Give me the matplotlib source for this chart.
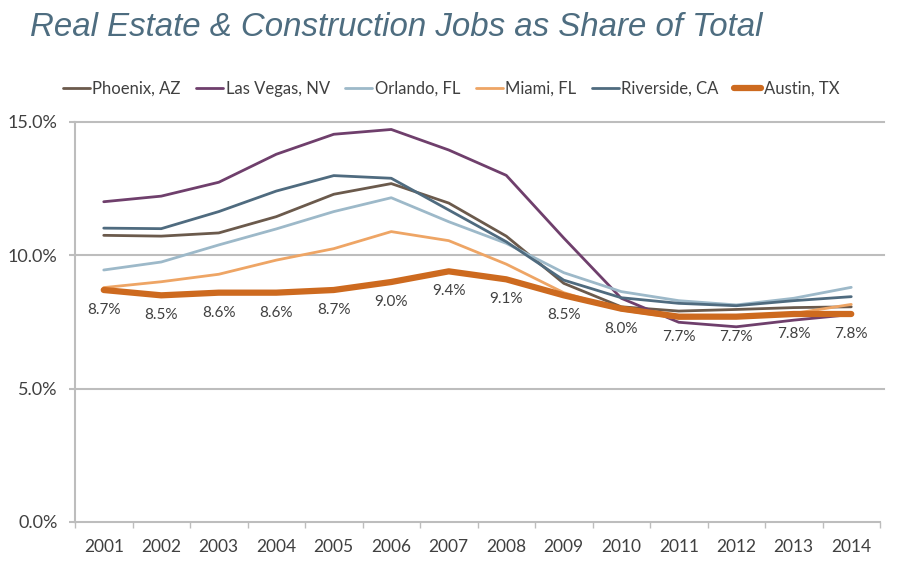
import matplotlib
matplotlib.use("Agg")
import matplotlib.pyplot as plt
from matplotlib.ticker import FuncFormatter, FixedLocator

years = ["2001", "2002", "2003", "2004", "2005", "2006", "2007",
         "2008", "2009", "2010", "2011", "2012", "2013", "2014"]
phoenix = [10.75, 10.72, 10.84, 11.45, 12.29, 12.69, 11.96, 10.72, 8.95, 8.07, 7.91, 7.97, 8.04, 8.07]
las_vegas = [12.01, 12.22, 12.74, 13.79, 14.54, 14.72, 13.95, 13.0, 10.65, 8.39, 7.49, 7.32, 7.57, 7.78]
orlando = [9.45, 9.75, 10.39, 10.99, 11.64, 12.16, 11.26, 10.45, 9.35, 8.64, 8.3, 8.14, 8.39, 8.8]
miami = [8.79, 9.01, 9.29, 9.82, 10.25, 10.89, 10.55, 9.67, 8.6, 7.95, 7.64, 7.7, 7.82, 8.16]
riverside = [11.02, 11.0, 11.64, 12.41, 12.99, 12.89, 11.7, 10.51, 9.07, 8.41, 8.2, 8.11, 8.3, 8.45]
austin = [8.7, 8.5, 8.6, 8.6, 8.7, 9.0, 9.4, 9.1, 8.5, 8.0, 7.7, 7.7, 7.8, 7.8]

series = [
    ("Phoenix, AZ", phoenix, "#6b5a4c", 2.0),
    ("Las Vegas, NV", las_vegas, "#6f3f6c", 2.0),
    ("Orlando, FL", orlando, "#9db9c9", 2.0),
    ("Miami, FL", miami, "#eea565", 2.0),
    ("Riverside, CA", riverside, "#4f6b7f", 2.0),
    ("Austin, TX", austin, "#cd6a1f", 4.5),
]

plt.rcParams['font.family'] = ['Lato', 'DejaVu Sans']
txt = "#404040"
grid = "#bdbdbd"

fig = plt.figure(figsize=(9, 5.8), dpi=100)
ax = fig.add_axes([75/900, 1-522/580, 805/900, 400/580])
x = list(range(len(years)))

for name, vals, col, lw in series:
    ax.plot(x, vals, color=col, lw=lw, label=name, solid_capstyle='round', zorder=3)

for xi, v in zip(x, austin):
    ax.annotate(f"{v:.1f}%", (xi, v), xytext=(0, -14.5), textcoords='offset points',
                ha='center', va='center', fontsize=11, color=txt, zorder=4)

ax.set_xlim(-0.5, 13.5)
ax.set_ylim(0, 15)
ax.set_yticks([0, 5, 10, 15])
ax.yaxis.set_major_formatter(FuncFormatter(lambda v, p: f"{v:.1f}%"))
for yv in [5, 10, 15]:
    ax.axhline(yv, color=grid, lw=1.5, zorder=1, xmax=1.005, clip_on=False)
ax.set_xticks(x)
ax.set_xticklabels(years)
ax.xaxis.set_minor_locator(FixedLocator([i + 0.5 for i in range(-1, 14)]))
ax.tick_params(axis='x', which='major', length=0, pad=12, labelsize=12.5, labelcolor=txt)
ax.tick_params(axis='x', which='minor', length=4, width=1, color=grid, direction='out')
ax.tick_params(axis='y', length=4.5, width=1.5, color=grid, pad=8, labelsize=13, labelcolor=txt)

for s in ['top', 'right']:
    ax.spines[s].set_visible(False)
ax.spines['left'].set_color(grid)
ax.spines['left'].set_linewidth(1.5)
ax.spines['bottom'].set_color(grid)
ax.spines['bottom'].set_linewidth(1.5)

fig.text(30/900, 1-28/580, "Real Estate & Construction Jobs as Share of Total",
         fontsize=23.8, style='italic', color="#4e6d80", ha='left', va='center',
         family=['Liberation Sans', 'DejaVu Sans'])

fig.legend(loc='center', bbox_to_anchor=(451/900, 1-89/580), ncol=6, frameon=False,
           handlelength=1.6, handletextpad=0.15, columnspacing=0.95, fontsize=12,
           labelcolor=txt)

fig.savefig("out.png", dpi=100, facecolor='white')
